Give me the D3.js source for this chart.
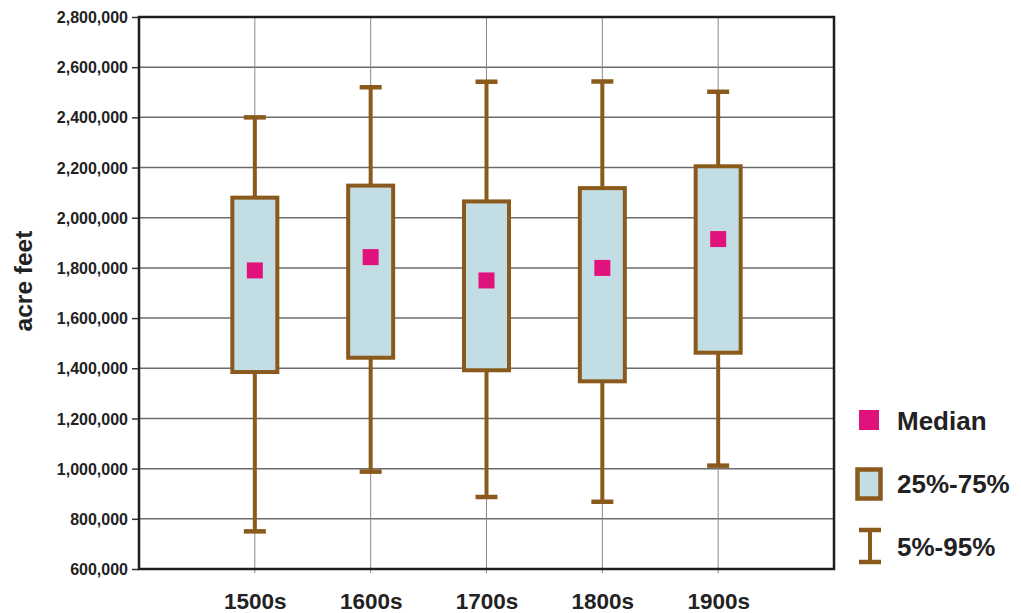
<!DOCTYPE html>
<html>
<head>
<meta charset="utf-8">
<script src="https://cdn.jsdelivr.net/npm/d3@7"></script>
<style>
  html, body { margin: 0; padding: 0; background: #fff; }
  svg { display: block; font-family: "Liberation Sans", Arial, sans-serif; }
</style>
</head>
<body>
<svg id="chart" width="1021" height="613"></svg>
<script>
const categories = ["1500s", "1600s", "1700s", "1800s", "1900s"];
const p95 = [2400000, 2520000, 2542000, 2543000, 2502000];
const q3 = [2080000, 2128000, 2065000, 2118000, 2205000];
const median = [1790000, 1843000, 1750000, 1800000, 1915000];
const q1 = [1385000, 1442000, 1392000, 1348000, 1462000];
const p5 = [750000, 988000, 887000, 868000, 1012000];
const yTicks = [600000, 800000, 1000000, 1200000, 1400000, 1600000, 1800000, 2000000, 2200000, 2400000, 2600000, 2800000];
const yLabel = "acre feet";
const legendLabels = ["Median", "25%-75%", "5%-95%"];

const BROWN = "#8a5a1c", FILL = "#c2dde4", PINK = "#e0137c", INK = "#222";
const svg = d3.select("#chart");
const L = 139, R = 834, T = 17, B = 569;

const x = d3.scalePoint().domain(categories).range([L, R]).padding(1);
const y = d3.scaleLinear().domain([600000, 2800000]).range([B, T]);

// horizontal gridlines
svg.append("g").selectAll("line").data(yTicks).join("line")
  .attr("x1", L).attr("x2", R)
  .attr("y1", d => y(d)).attr("y2", d => y(d))
  .attr("stroke", "#6b6b6b").attr("stroke-width", 1.5);

// vertical gridlines
svg.append("g").selectAll("line").data(categories).join("line")
  .attr("x1", d => x(d)).attr("x2", d => x(d))
  .attr("y1", T).attr("y2", B + 4)
  .attr("stroke", "#8a8a8a").attr("stroke-width", 1);

// y axis ticks + labels
const yAxis = d3.axisLeft(y).tickValues(yTicks).tickSize(7).tickPadding(4)
  .tickFormat(d3.format(","));
const gy = svg.append("g").attr("transform", `translate(${L},0)`).call(yAxis);
gy.select(".domain").remove();
gy.selectAll(".tick line").attr("stroke", "#333").attr("stroke-width", 1.5);
gy.selectAll(".tick text").attr("fill", INK).attr("font-size", 16)
  .attr("font-weight", "bold").attr("font-family", "Liberation Sans, Arial, sans-serif")
  .attr("dy", "0.35em");

// x axis labels
const xAxis = d3.axisBottom(x).tickSize(0).tickPadding(0);
const gx = svg.append("g").attr("transform", `translate(0,${B})`).call(xAxis);
gx.select(".domain").remove();
gx.selectAll(".tick text").attr("fill", INK).attr("font-size", 22.5)
  .attr("font-weight", "bold").attr("font-family", "Liberation Sans, Arial, sans-serif")
  .attr("dy", null).attr("y", 39.5);

// y label
svg.append("text").attr("transform", `translate(32,281) rotate(-90)`)
  .attr("text-anchor", "middle").attr("font-size", 24.5).attr("font-weight", "bold")
  .attr("fill", INK).text(yLabel);

const data = categories.map((c, i) => ({ c, p95: p95[i], q3: q3[i], med: median[i], q1: q1[i], p5: p5[i] }));
const boxW = 45, capW = 22, medS = 16;

const g = svg.append("g");
// whisker stems
g.selectAll(".stem").data(data).join("line")
  .attr("x1", d => x(d.c)).attr("x2", d => x(d.c))
  .attr("y1", d => y(d.p95)).attr("y2", d => y(d.p5))
  .attr("stroke", BROWN).attr("stroke-width", 4);
// caps
["p95", "p5"].forEach(k => {
  g.selectAll(".cap-" + k).data(data).join("line")
    .attr("x1", d => x(d.c) - capW / 2).attr("x2", d => x(d.c) + capW / 2)
    .attr("y1", d => y(d[k])).attr("y2", d => y(d[k]))
    .attr("stroke", BROWN).attr("stroke-width", 4.5);
});
// boxes
g.selectAll(".box").data(data).join("rect")
  .attr("x", d => x(d.c) - boxW / 2).attr("width", boxW)
  .attr("y", d => y(d.q3)).attr("height", d => y(d.q1) - y(d.q3))
  .attr("fill", FILL).attr("stroke", BROWN).attr("stroke-width", 4);
// medians
g.selectAll(".med").data(data).join("rect")
  .attr("x", d => x(d.c) - medS / 2).attr("width", medS)
  .attr("y", d => y(d.med) - medS / 2).attr("height", medS)
  .attr("fill", PINK);

// frame
svg.append("rect").attr("x", L).attr("y", T).attr("width", R - L).attr("height", B - T)
  .attr("fill", "none").attr("stroke", "#1e1e1e").attr("stroke-width", 2.5);

// legend
const lg = svg.append("g");
lg.append("rect").attr("x", 859).attr("y", 410).attr("width", 20).attr("height", 20).attr("fill", PINK);
lg.append("rect").attr("x", 857.5).attr("y", 469.5).attr("width", 23).attr("height", 29)
  .attr("fill", FILL).attr("stroke", BROWN).attr("stroke-width", 4.5);
lg.append("line").attr("x1", 870).attr("x2", 870).attr("y1", 530).attr("y2", 562)
  .attr("stroke", BROWN).attr("stroke-width", 4);
lg.append("line").attr("x1", 859).attr("x2", 881).attr("y1", 530).attr("y2", 530)
  .attr("stroke", BROWN).attr("stroke-width", 4.5);
lg.append("line").attr("x1", 859).attr("x2", 881).attr("y1", 562).attr("y2", 562)
  .attr("stroke", BROWN).attr("stroke-width", 4.5);
const ly = [430, 493, 556];
lg.selectAll("text").data(legendLabels).join("text")
  .attr("x", 897).attr("y", (d, i) => ly[i])
  .attr("font-size", 26).attr("font-weight", "bold").attr("fill", INK)
  .text(d => d);
</script>
</body>
</html>
